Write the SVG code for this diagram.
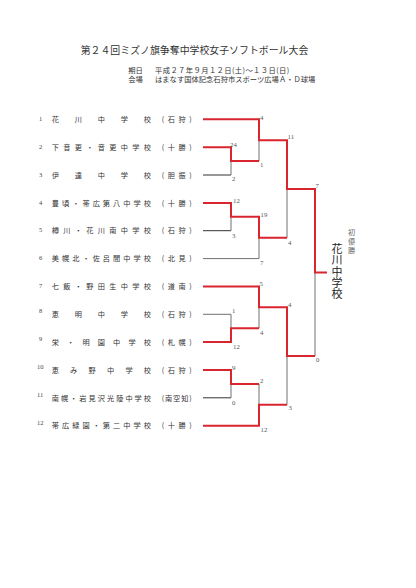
<svg xmlns="http://www.w3.org/2000/svg" width="416" height="588" viewBox="0 0 416 588">
<style>
.t{font-family:"Noto Sans CJK JP","Liberation Serif",sans-serif;fill:#333}
.title{font-size:10px}
.info{font-size:7.3px}
.nm{font-size:7.2px}
.no{font-family:"Liberation Serif",serif;font-size:6.5px;fill:#444}
.sc{font-family:"Liberation Serif",serif;font-size:6.8px;fill:#555}
.red{fill:none;stroke:#d9262e;stroke-width:2;stroke-linejoin:miter}
.gr{fill:none;stroke:#707070;stroke-width:1}
.dk{fill:none;stroke:#333;stroke-width:1}
.win{font-family:"Noto Sans CJK JP",sans-serif;font-size:11px;fill:#222;writing-mode:vertical-rl;letter-spacing:0.2px}
.sub{font-family:"Noto Sans CJK JP",sans-serif;font-size:7.2px;fill:#666;writing-mode:vertical-rl;letter-spacing:1.8px}
</style>
<rect width="416" height="588" fill="#fff"/>
<g id="header">
<text class="t title" x="80.7" y="54.3" textLength="227.6" lengthAdjust="spacingAndGlyphs">第２４回ミズノ旗争奪中学校女子ソフトボール大会</text>
<text class="t info"><tspan x="128.3" y="72.6">期日</tspan><tspan x="155" y="72.6" letter-spacing="0.4">平成２７年９月１２日(土)～１３日(日)</tspan><tspan x="128.3" y="81.6">会場</tspan><tspan x="155" y="81.6">はまなす国体記念石狩市スポーツ広場Ａ・Ｄ球場</tspan></text>
</g>
<g id="team1"><text class="no" x="39" y="121">1</text><text class="t nm" x="51.7" y="122" textLength="99.3" lengthAdjust="spacing">花川中学校</text><text class="t nm" x="161.7" y="122" textLength="30" lengthAdjust="spacing">(石狩)</text></g>
<g id="team2"><text class="no" x="39" y="148.9">2</text><text class="t nm" x="51.7" y="149.9" textLength="99.3" lengthAdjust="spacing">下音更・音更中学校</text><text class="t nm" x="161.7" y="149.9" textLength="30" lengthAdjust="spacing">(十勝)</text></g>
<g id="team3"><text class="no" x="39" y="176.7">3</text><text class="t nm" x="51.7" y="177.7" textLength="99.3" lengthAdjust="spacing">伊達中学校</text><text class="t nm" x="161.7" y="177.7" textLength="30" lengthAdjust="spacing">(胆振)</text></g>
<g id="team4"><text class="no" x="39" y="204.6">4</text><text class="t nm" x="51.7" y="205.6" textLength="99.3" lengthAdjust="spacing">豊頃・帯広第八中学校</text><text class="t nm" x="161.7" y="205.6" textLength="30" lengthAdjust="spacing">(十勝)</text></g>
<g id="team5"><text class="no" x="39" y="232.4">5</text><text class="t nm" x="51.7" y="233.4" textLength="99.3" lengthAdjust="spacing">樽川・花川南中学校</text><text class="t nm" x="161.7" y="233.4" textLength="30" lengthAdjust="spacing">(石狩)</text></g>
<g id="team6"><text class="no" x="39" y="260.3">6</text><text class="t nm" x="51.7" y="261.3" textLength="99.3" lengthAdjust="spacing">美幌北・佐呂間中学校</text><text class="t nm" x="161.7" y="261.3" textLength="30" lengthAdjust="spacing">(北見)</text></g>
<g id="team7"><text class="no" x="39" y="287.6">7</text><text class="t nm" x="51.7" y="289.1" textLength="99.3" lengthAdjust="spacing">七飯・野田生中学校</text><text class="t nm" x="161.7" y="289.1" textLength="30" lengthAdjust="spacing">(道南)</text></g>
<g id="team8"><text class="no" x="39" y="313.2">8</text><text class="t nm" x="51.7" y="317" textLength="99.3" lengthAdjust="spacing">恵明中学校</text><text class="t nm" x="161.7" y="317" textLength="30" lengthAdjust="spacing">(石狩)</text></g>
<g id="team9"><text class="no" x="39" y="341">9</text><text class="t nm" x="51.7" y="344.8" textLength="99.3" lengthAdjust="spacing">栄・明園中学校</text><text class="t nm" x="161.7" y="344.8" textLength="30" lengthAdjust="spacing">(札幌)</text></g>
<g id="team10"><text class="no" x="37" y="368.9">10</text><text class="t nm" x="51.7" y="372.7" textLength="99.3" lengthAdjust="spacing">恵み野中学校</text><text class="t nm" x="161.7" y="372.7" textLength="30" lengthAdjust="spacing">(石狩)</text></g>
<g id="team11"><text class="no" x="37" y="396.7">11</text><text class="t nm" x="51.7" y="400.5" textLength="99.3" lengthAdjust="spacing">南幌・岩見沢光陵中学校</text><text class="t nm" x="161.7" y="400.5" textLength="30" lengthAdjust="spacing">(南空知)</text></g>
<g id="team12"><text class="no" x="37" y="424.6">12</text><text class="t nm" x="51.7" y="428.4" textLength="99.3" lengthAdjust="spacing">帯広緑園・第二中学校</text><text class="t nm" x="161.7" y="428.4" textLength="30" lengthAdjust="spacing">(十勝)</text></g>
<g id="connectors">
<path class="dk" d="M203,175H231M203,230.7H231M203,397.8H231"/>
<path class="gr" d="M203,258.6H259M203,314.3H231"/>
<path class="gr" d="M231,161.1V175M259,140.2V161.1M231,216.8V230.7M259,237.7V258.6M287,189V237.7M231,314.3V328.2M259,307.3V328.2M231,383.9V397.8M259,383.9V404.8M287,356V404.8M315,272.5V356"/>
<path class="red" d="M203,119.3H259V140.2H287V189H315V272.5H327"/>
<path class="red" d="M203,147.2H231V161.1H259"/>
<path class="red" d="M203,202.9H231V216.8H259V237.7H287"/>
<path class="red" d="M203,286.4H259V307.3H287V356H315"/>
<path class="red" d="M203,342.1H231V328.2H259"/>
<path class="red" d="M203,370H231V383.9H259"/>
<path class="red" d="M203,425.7H259V404.8H287"/>
</g>
<g id="scores">
<text class="sc" x="260" y="119.5">4</text>
<text class="sc" x="230" y="146.5">24</text>
<text class="sc" x="260" y="167.2">1</text>
<text class="sc" x="232" y="181.3">2</text>
<text class="sc" x="287.5" y="139.3">11</text>
<text class="sc" x="315.5" y="188.3">7</text>
<text class="sc" x="233" y="203.3">12</text>
<text class="sc" x="232" y="237.6">3</text>
<text class="sc" x="260.5" y="216.6">19</text>
<text class="sc" x="288" y="244.6">4</text>
<text class="sc" x="260" y="265">7</text>
<text class="sc" x="259.5" y="285.6">5</text>
<text class="sc" x="232" y="313.3">1</text>
<text class="sc" x="233" y="348.6">12</text>
<text class="sc" x="260" y="334.6">4</text>
<text class="sc" x="288" y="306.6">4</text>
<text class="sc" x="316" y="362.3">0</text>
<text class="sc" x="232" y="369.6">9</text>
<text class="sc" x="232" y="404.6">0</text>
<text class="sc" x="260" y="383.3">2</text>
<text class="sc" x="288.5" y="410">3</text>
<text class="sc" x="260.5" y="432.3">12</text>
</g>
<g id="champion">
<text class="sub" x="351.7" y="228.5">初優勝</text>
<text class="win" x="337" y="243.5">花川中学校</text>
</g>
</svg>
